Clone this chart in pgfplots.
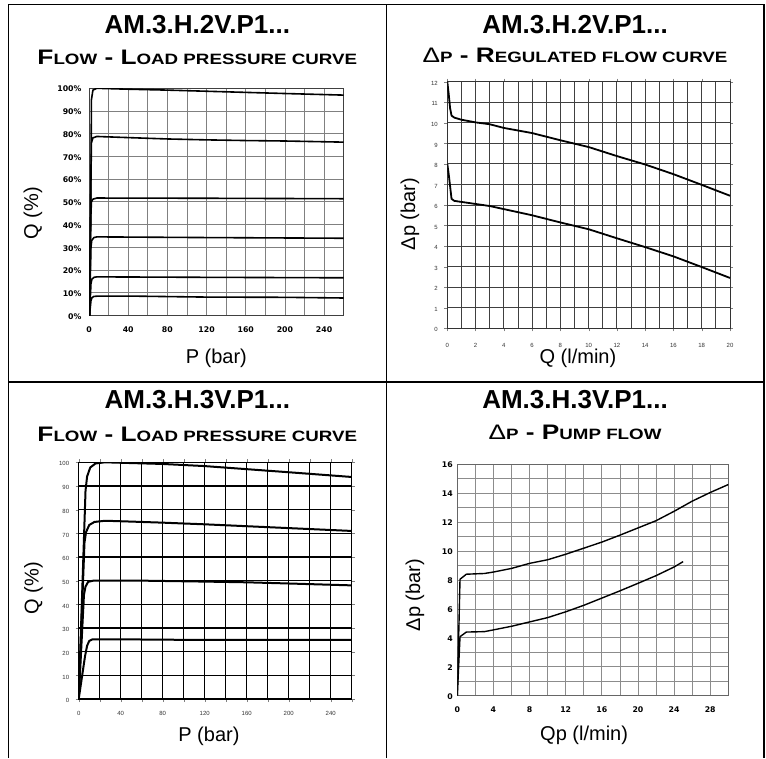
\documentclass[border=0pt]{standalone}
\usepackage{graphicx}
\usepackage{pgfplots}
\pgfplotsset{compat=1.18}
\usepackage{fontspec}
\setmainfont{Liberation Sans}
\newfontfamily\tickfont{DejaVu Sans}

% fake small caps for the titles, set wide like the original
\newcommand\smc[1]{{\fontsize{15}{15}\selectfont #1}}
\newcommand\tone[1]{{\fontsize{26}{26}\selectfont\bfseries #1}}
\newcommand\ttwo[1]{\scalebox{1.25}[1]{\fontsize{21}{21}\selectfont\bfseries #1}}

\pgfplotsset{
  panel/.style={anchor=south west, scale only axis,
    /pgf/number format/assume math mode=true,
    label style={font=\fontsize{20}{20}\selectfont},
    grid=both},
  boldticks/.style={ticklabel style={font=\tickfont\bfseries\fontsize{7.8}{8}\selectfont, text height=1.4ex, text depth=0pt}},
  thinticks/.style={ticklabel style={font=\fontsize{6}{6}\selectfont, black!80, text height=1.4ex, text depth=0pt}},
  curve/.style={black, line width=1.6pt, line join=round},
}

\begin{document}
\begin{tikzpicture}[x=1pt,y=1pt]
\path[use as bounding box] (0,0) rectangle (766,758);

% table rules
\draw[line width=1.6pt] (8.3,0) -- (8.3,753.5) -- (763.7,753.5) -- (763.7,0);
\draw[line width=1.6pt] (386.3,0) -- (386.3,753.5);
\draw[line width=1.6pt] (8.3,375.7) -- (763.7,375.7);

% titles
\node[anchor=base] at (197.3,724.7) {\tone{AM.3.H.2V.P1...}};
\node[anchor=base] at (197.3,693.7) {\ttwo{F\smc{LOW} - L\smc{OAD PRESSURE CURVE}}};
\node[anchor=base] at (575,724.7) {\tone{AM.3.H.2V.P1...}};
\node[anchor=base] at (575,695) {\ttwo{\mdseries Δ\bfseries\smc{P} - R\smc{EGULATED FLOW CURVE}}};
\node[anchor=base] at (197.3,349.7) {\tone{AM.3.H.3V.P1...}};
\node[anchor=base] at (197.3,316.3) {\ttwo{F\smc{LOW} - L\smc{OAD PRESSURE CURVE}}};
\node[anchor=base] at (575,349.7) {\tone{AM.3.H.3V.P1...}};
\node[anchor=base] at (575,318) {\ttwo{\mdseries Δ\bfseries\smc{P} - P\smc{UMP FLOW}}};

% ---- top left: flow vs load pressure, 2V
\begin{axis}[panel, boldticks, at={(89pt,442.5pt)}, width=254.7pt, height=227.2pt,
  xmin=0, xmax=260, ymin=0, ymax=100,
  xtick={0,40,...,240}, minor xtick={20,60,...,260},
  ytick={0,10,...,100},
  yticklabel={\pgfmathprintnumber{\tick}\%},
  major tick length=0pt, minor tick length=0pt,
  grid style={black!50, line width=0.8pt}, minor grid style={black!50, line width=0.8pt},
  axis line style={black!75, line width=0.8pt},
  xticklabel style={yshift=-6pt}, yticklabel style={xshift=-4pt},
  xlabel={P (bar)}, ylabel={Q (\%)},
  xlabel style={at={(axis description cs:0.5,-0.187)}, anchor=center},
  ylabel style={at={(axis description cs:-0.22,0.45)}, anchor=center},
]
\addplot[curve] coordinates {(0.5,0) (2,60) (2.5,95) (4,99.2) (8,100) (40,99.6) (80,99.2) (120,98.7) (160,98.2) (200,97.7) (260,97)};
\addplot[curve] coordinates {(0.5,0) (2,60) (2.5,76) (4,78.2) (8,78.8) (40,78.3) (80,77.7) (120,77.3) (160,77) (200,76.8) (260,76.3)};
\addplot[curve] coordinates {(0.5,0) (2,45) (2.5,50) (4,51.2) (8,51.7) (120,51.6) (260,51.4)};
\addplot[curve] coordinates {(0.5,0) (2,30) (2.8,33) (5,34.3) (8,34.6) (120,34.3) (260,34)};
\addplot[curve] coordinates {(0.5,0) (2,14) (3,16) (5,16.8) (8,17) (120,16.8) (260,16.6)};
\addplot[curve] coordinates {(0.5,0) (2,6.5) (3,7.8) (5,8.4) (8,8.5) (50,8.5) (120,8.1) (200,8) (260,7.7)};
\end{axis}

% ---- top right: dp vs regulated flow, 2V
\begin{axis}[panel, thinticks, at={(447.3pt,429.7pt)}, width=282.7pt, height=246.6pt,
  xmin=0, xmax=20, ymin=0, ymax=12,
  xtick={0,2,...,20}, minor xtick={1,3,...,19},
  ytick={0,1,...,12},
  tick align=outside, major tick length=3pt, minor tick length=0pt,
  grid style={black!75, line width=0.9pt}, minor grid style={black!75, line width=0.9pt},
  axis line style={black!80, line width=0.9pt},
  xticklabel style={yshift=-5pt}, yticklabel style={xshift=-3pt},
  xlabel={Q (l/min)}, ylabel={Δp (bar)},
  xlabel style={at={(axis description cs:0.462,-0.12)}, anchor=center},
  ylabel style={at={(axis description cs:-0.132,0.463)}, anchor=center},
]
\addplot[curve, line width=1.8pt] coordinates {(0,12) (0.1,11.4) (0.2,10.7) (0.3,10.35) (0.5,10.25) (1,10.15) (2,10.02) (3,9.93) (4,9.75) (6,9.5) (8,9.15) (10,8.82) (12,8.38) (14,7.97) (16,7.5) (18,6.98) (20,6.45)};
\addplot[curve, line width=1.8pt] coordinates {(0,8) (0.1,7.5) (0.2,6.9) (0.3,6.3) (0.5,6.2) (1,6.15) (2,6.05) (3,5.95) (4,5.8) (6,5.5) (8,5.15) (10,4.82) (12,4.38) (14,3.95) (16,3.5) (18,2.98) (20,2.45)};
\end{axis}

% ---- bottom left: flow vs load pressure, 3V
\begin{axis}[panel, thinticks, at={(78.7pt,59pt)}, width=273pt, height=236.7pt,
  xmin=0, xmax=260, ymin=0, ymax=100,
  xtick={0,40,...,240}, minor xtick={20,60,...,260},
  ytick={0,10,...,100},
  tick align=outside, major tick length=3pt, minor tick length=3pt,
  grid style={black, line width=1.2pt}, minor grid style={black, line width=1.2pt},
  axis line style={black, line width=1.2pt},
  xticklabel style={yshift=-3pt}, yticklabel style={xshift=-3pt},
  xlabel={P (bar)}, ylabel={Q (\%)},
  xlabel style={at={(axis description cs:0.477,-0.159)}, anchor=center},
  ylabel style={at={(axis description cs:-0.166,0.468)}, anchor=center},
]
\addplot[curve, line width=2pt] coordinates {(0,0) (6.5,88) (8,94) (11,97.8) (16,99.5) (25,100) (40,99.8) (80,99.3) (120,98.4) (160,97.1) (200,95.8) (260,93.8)};
\addplot[curve, line width=2pt] coordinates {(0,0) (5.5,66) (7,70.5) (10,73.5) (15,74.8) (25,75.3) (40,75.1) (80,74.5) (120,73.8) (160,73) (200,72.2) (260,71)};
\addplot[curve, line width=2pt] coordinates {(0,0) (5,44) (6.5,47.5) (9,49.5) (14,50) (60,50) (120,49.6) (160,49.3) (200,48.8) (260,48)};
\addplot[curve, line width=2pt] coordinates {(0,0) (6,18) (8,22.5) (10,24.5) (13,25.2) (40,25.2) (100,25) (160,25) (260,25)};
\end{axis}

% ---- bottom right: dp vs pump flow, 3V
\begin{axis}[panel, boldticks, at={(457.3pt,62.3pt)}, width=271pt, height=231.4pt,
  xmin=0, xmax=30, ymin=0, ymax=16,
  xtick={0,4,...,28}, minor xtick={2,6,...,30},
  ytick={0,2,...,16}, minor ytick={1,3,...,15},
  major tick length=0pt, minor tick length=0pt,
  grid style={black!45, line width=0.8pt}, minor grid style={black!45, line width=0.8pt},
  axis line style={black!60, line width=0.8pt},
  xticklabel style={yshift=-6pt}, yticklabel style={xshift=-1pt},
  xlabel={Qp (l/min)}, ylabel={Δp (bar)},
  xlabel style={at={(axis description cs:0.468,-0.17)}, anchor=center},
  ylabel style={at={(axis description cs:-0.156,0.435)}, anchor=center},
]
\addplot[curve, line width=1.4pt] coordinates {(0,0) (0.3,8.05) (1,8.4) (3,8.45) (4,8.55) (6,8.8) (8,9.15) (10,9.4) (12,9.78) (14,10.2) (16,10.62) (18,11.1) (20,11.6) (22,12.1) (24,12.75) (26,13.45) (28,14.05) (30,14.6)};
\addplot[curve, line width=1.4pt] coordinates {(0,0) (0.3,4.08) (1,4.4) (3,4.43) (4,4.55) (6,4.8) (8,5.1) (10,5.4) (12,5.8) (14,6.25) (16,6.75) (18,7.25) (20,7.77) (22,8.3) (24,8.9) (25,9.27)};
\end{axis}
\end{tikzpicture}
\end{document}
